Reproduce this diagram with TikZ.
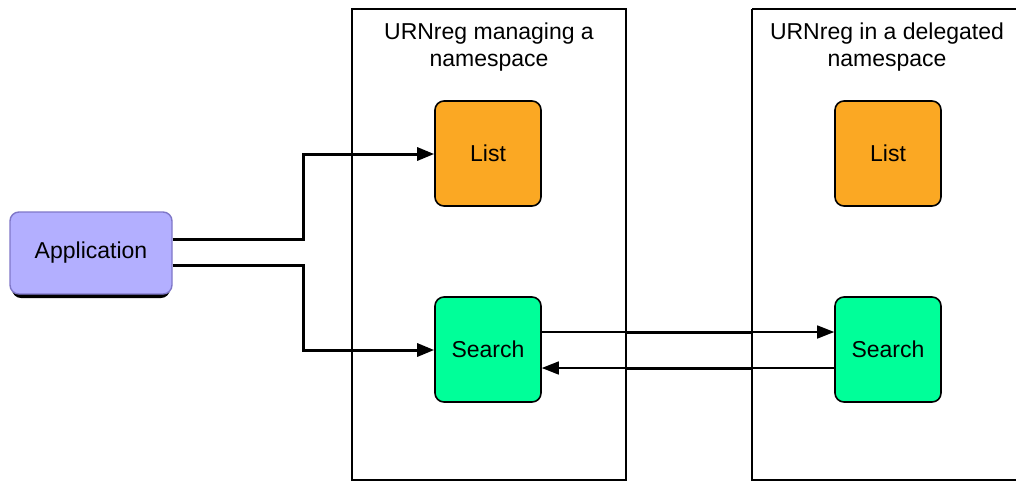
\documentclass[tikz,border=0pt]{standalone}
\usepackage{fontspec}
\setmainfont{Liberation Sans}
\usetikzlibrary{arrows.meta,shadows}
\definecolor{listc}{HTML}{FBA823}
\definecolor{searchc}{HTML}{00FF99}
\definecolor{appc}{HTML}{B3AFFF}
\definecolor{appb}{HTML}{7F77C8}
\begin{document}
\begin{tikzpicture}[x=1pt,y=-1pt,
  every node/.style={font=\fontsize{23}{27}\selectfont},
  cont/.style={draw=black,line width=1.8pt},
  box/.style={draw=black,line width=1.6pt,rounded corners=9pt,minimum width=106pt,minimum height=105pt,inner sep=0pt},
  link/.style={line width=3pt,-{Triangle[length=17pt,width=13pt]}},
  flow/.style={line width=1.5pt}]
\useasboundingbox (0,0) rectangle (1016,482);
% containers
\draw[cont] (352,9) rectangle (626,480);
\draw[cont] (752,9) -- (1020,9);
\draw[cont] (752,9) -- (752,480) -- (1020,480);
\node[align=center] (t1) at (489,47) {URNreg managing a\\namespace};
\node[align=center] (t2) at (887,47) {URNreg in a delegated\\namespace};
% boxes
\node[box,fill=listc] (list1) at (488,153.5) {List};
\node[box,fill=listc] (list2) at (888,153.5) {List};
\node[box,fill=searchc] (s1) at (488,349.5) {Search};
\node[box,fill=searchc] (s2) at (888,349.5) {Search};
% application
\fill[black,rounded corners=9pt] (12,218) rectangle (170,298);
\node[draw=appb,line width=1.4pt,fill=appc,rounded corners=9pt,minimum width=162pt,minimum height=82pt,inner sep=0pt] (app) at (91,253) {Application};
% connectors
\coordinate (a1) at (app.east |- 0,239);
\coordinate (a2) at (app.east |- 0,265);
\draw[link] (a1) -- (303,239) -- (303,154) -- (list1.west |- 0,154);
\draw[link] (a2) -- (303,265) -- (303,350) -- (s1.west |- 0,350);
% search to search
\draw[flow,-{Triangle[length=17pt,width=13pt]}] (s1.east |- 0,332) -- (s2.west |- 0,332);
\draw[flow,{Triangle[length=17pt,width=13pt]}-] (s1.east |- 0,368) -- (s2.west |- 0,368);
\draw[line width=3pt] (627,332) -- (751,332);
\draw[line width=3pt] (627,368) -- (751,368);
\end{tikzpicture}
\end{document}
